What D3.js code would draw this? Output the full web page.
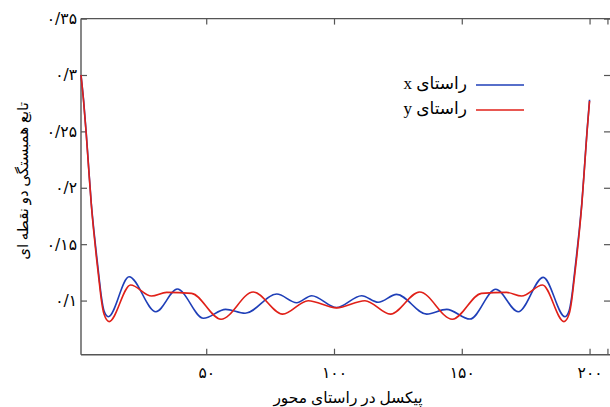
<!DOCTYPE html>
<html><head><meta charset="utf-8">
<script src="https://cdn.jsdelivr.net/npm/d3@7"></script>
<style>
html,body{margin:0;padding:0;background:#fff;}
svg{display:block;}
text{font-family:"Liberation Serif","DejaVu Serif","DejaVu Sans",serif;fill:#000;}
</style></head><body>
<svg id="c" width="610" height="407"></svg>
<script>
// data (x: pixel offset, value: correlation)
const xsBlue = [1,2,3,4,5,6,7,8,9,10,11.7,19.8,30.3,38.7,48.9,57.6,65.2,77.6,85.4,91.3,101,110.8,117.3,124.5,136.3,144.1,153.2,163.3,172.1,181.9,190.4,192,193,194,195,196,197,198,199,200];
const valsBlue = [0.300,0.278,0.250,0.218,0.187,0.163,0.142,0.122,0.103,0.091,0.0857,0.1211,0.0901,0.1102,0.0843,0.0922,0.0887,0.1058,0.0981,0.1043,0.0938,0.1043,0.0985,0.1055,0.0880,0.0922,0.0836,0.1100,0.0901,0.1206,0.0857,0.091,0.103,0.122,0.142,0.163,0.187,0.218,0.250,0.278];
const xsRed = [1,2,3,4,5,6,7,8,9,10,12,20.4,28.6,34.5,44.3,55.8,68.4,79.9,89.9,101,112.1,122.1,133.5,146.3,157.7,167.5,173.4,181.6,190,192,193,194,195,196,197,198,199,200];
const valsRed = [0.300,0.277,0.249,0.217,0.186,0.161,0.139,0.119,0.100,0.088,0.0813,0.1138,0.1040,0.1073,0.1064,0.0834,0.1076,0.0880,0.0999,0.0935,0.0999,0.0880,0.1076,0.0834,0.1064,0.1073,0.1040,0.1138,0.0813,0.088,0.100,0.119,0.139,0.161,0.186,0.217,0.249,0.277];
const xTicks = [50,100,150,200,207];
const xTickLabels = ["۵۰","۱۰۰","۱۵۰","۲۰۰",""];
const yTicks = [0.1,0.15,0.2,0.25,0.3,0.35];
const yTickLabels = ["۰/۱","۰/۱۵","۰/۲","۰/۲۵","۰/۳","۰/۳۵"];
const seriesNames = ["راستای x","راستای y"];
const colors = ["#1f3fb8","#e02018"];

const svg = d3.select("#c");
const L=81, R=610, T=18.6, B=354.7;
const x = d3.scaleLinear().domain([1,208]).range([L,R]);
const y = d3.scaleLinear().domain([0.052,0.35]).range([B,T]);

const axisColor="#555";
svg.append("line").attr("x1",L).attr("x2",R).attr("y1",T).attr("y2",T).attr("stroke",axisColor).attr("stroke-width",1.4);
svg.append("line").attr("x1",L).attr("x2",L).attr("y1",T).attr("y2",B).attr("stroke",axisColor).attr("stroke-width",1.4);
svg.append("line").attr("x1",L).attr("x2",R).attr("y1",B).attr("y2",B).attr("stroke",axisColor).attr("stroke-width",1.4);

const gx = svg.append("g").attr("transform",`translate(0,${B})`)
  .call(d3.axisBottom(x).tickValues(xTicks).tickSizeInner(-6).tickSizeOuter(0).tickPadding(12)
    .tickFormat((d,i)=>xTickLabels[i]));
const gxt = svg.append("g").attr("transform",`translate(0,${T})`)
  .call(d3.axisTop(x).tickValues(xTicks).tickSizeInner(-6).tickSizeOuter(0).tickFormat(""));
const gy = svg.append("g").attr("transform",`translate(${L},0)`)
  .call(d3.axisLeft(y).tickValues(yTicks).tickSizeInner(-6).tickSizeOuter(0).tickPadding(4)
    .tickFormat((d,i)=>yTickLabels[i]));
const gyr = svg.append("g").attr("transform",`translate(${R},0)`)
  .call(d3.axisRight(y).tickValues(yTicks).tickSizeInner(-6).tickSizeOuter(0).tickFormat(""));
[gx,gxt,gy,gyr].forEach(g=>{
  g.select(".domain").remove();
  g.selectAll(".tick line").attr("stroke",axisColor).attr("stroke-width",1.2);
  g.selectAll("text").attr("font-size",15.5).attr("fill","#000")
    .style("font-family","'DejaVu Sans',sans-serif").style("direction","ltr");
});

const line = d3.line().x(d=>x(d[0])).y(d=>y(d[1])).curve(d3.curveMonotoneX);
const data = [d3.zip(xsBlue,valsBlue), d3.zip(xsRed,valsRed)];
data.forEach((d,i)=>{
  svg.append("path").datum(d).attr("d",line).attr("fill","none")
    .attr("stroke",colors[i]).attr("stroke-width",1.6);
});

const ly=[85,110];
seriesNames.forEach((n,i)=>{
  svg.append("line").attr("x1",476).attr("x2",524).attr("y1",ly[i]).attr("y2",ly[i])
    .attr("stroke",colors[i]).attr("stroke-width",1.6);
  svg.append("text").attr("x",467).attr("y",ly[i]+4).attr("font-size",17)
    .style("direction","rtl").attr("text-anchor","start").text(n);
});

svg.append("text").attr("transform","translate(28,181) rotate(-90)")
  .attr("text-anchor","middle").attr("font-size",15).style("direction","rtl")
  .text("تابع همبستگی دو نقطه ای");
svg.append("text").attr("x",348).attr("y",403).attr("text-anchor","middle")
  .attr("font-size",15.5).style("direction","rtl").text("پیکسل در راستای محور");
</script></body></html>
